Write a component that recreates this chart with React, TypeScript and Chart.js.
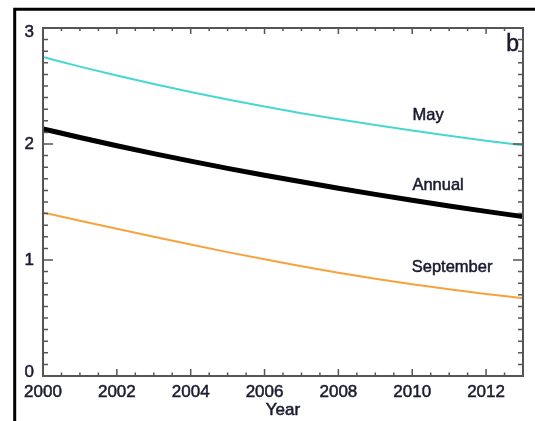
import React, { useEffect, useRef } from "react";
import { Chart, registerables } from "chart.js";

Chart.register(...registerables);

// Yearly values, 2000–2013
const YEARS = [2000, 2001, 2002, 2003, 2004, 2005, 2006, 2007, 2008, 2009, 2010, 2011, 2012, 2013];
const MAY = [2.75, 2.667, 2.59, 2.517, 2.448, 2.384, 2.323, 2.266, 2.213, 2.163, 2.116, 2.071, 2.029, 1.99];
const ANNUAL = [2.13, 2.056, 1.985, 1.917, 1.852, 1.79, 1.731, 1.674, 1.619, 1.566, 1.515, 1.466, 1.419, 1.374];
const SEPTEMBER = [1.41, 1.339, 1.269, 1.2, 1.133, 1.068, 1.006, 0.947, 0.891, 0.839, 0.791, 0.747, 0.707, 0.67];

const X_TICKS = [2000, 2002, 2004, 2006, 2008, 2010, 2012];
const Y_TICKS = [0, 1, 2, 3];

const FONT = '"Liberation Sans", Arial, Helvetica, sans-serif';
const TEXT = "#1a1a30";
const AXIS = "#555555";
const STROKE = 0.5;

// In-plot annotations, placed in data coordinates
const NOTES = [
  { text: "May", x: 2010.43, y: 2.245, size: 16.5 },
  { text: "Annual", x: 2010.7, y: 1.64, size: 16.5 },
  { text: "September", x: 2011.08, y: 0.933, size: 16.5 },
  { text: "b", x: 2012.72, y: 2.86, size: 23 },
];

function label(ctx: CanvasRenderingContext2D, text: string, x: number, y: number) {
  ctx.fillText(text, x, y);
  ctx.strokeText(text, x, y);
}

const framePlugin = {
  id: "frame",
  beforeDraw(chart: any) {
    const { ctx, width, height } = chart;
    ctx.save();
    ctx.fillStyle = "#ffffff";
    ctx.fillRect(0, 0, width, height);
    ctx.strokeStyle = "#000000";
    ctx.lineWidth = 3;
    ctx.beginPath();
    ctx.moveTo(14.7, height);
    ctx.lineTo(14.7, 9.2);
    ctx.lineTo(width, 9.2);
    ctx.stroke();
    ctx.restore();
  },
  afterDatasetsDraw(chart: any) {
    const { ctx, chartArea: a, scales } = chart;
    const xs = scales.x;
    const ys = scales.y;
    ctx.save();
    ctx.strokeStyle = AXIS;
    ctx.lineWidth = 1.5;
    // x ticks: every half year, longer every two years
    for (let i = 0; i <= 26; i++) {
      const v = 2000 + i * 0.5;
      const px = xs.getPixelForValue(v);
      const major = i % 4 === 0;
      const lb = major ? 7 : 3.5;
      const lt = major ? 6 : 3;
      ctx.beginPath();
      ctx.moveTo(px, a.bottom);
      ctx.lineTo(px, a.bottom - lb);
      ctx.moveTo(px, a.top);
      ctx.lineTo(px, a.top + lt);
      ctx.stroke();
    }
    // y ticks: every 0.1, longer at whole numbers
    for (let i = 0; i <= 30; i++) {
      const v = i / 10;
      const py = ys.getPixelForValue(v);
      const major = i % 10 === 0;
      const l = major ? 10 : 5;
      ctx.beginPath();
      ctx.moveTo(a.left, py);
      ctx.lineTo(a.left + l, py);
      ctx.moveTo(a.right, py);
      ctx.lineTo(a.right - l, py);
      ctx.stroke();
    }
    ctx.lineWidth = 2;
    ctx.strokeRect(a.left, a.top, a.right - a.left, a.bottom - a.top);
    ctx.restore();
  },
  afterDraw(chart: any) {
    const { ctx, scales, chartArea: a } = chart;
    ctx.save();
    ctx.fillStyle = TEXT;
    ctx.strokeStyle = TEXT;
    ctx.lineWidth = STROKE;
    // y tick labels, kept inside the axis span at both ends
    ctx.font = `17px ${FONT}`;
    ctx.textAlign = "right";
    ctx.textBaseline = "middle";
    Y_TICKS.forEach((v) => {
      const py = Math.min(Math.max(scales.y.getPixelForValue(v), a.top + 4), a.bottom - 4);
      label(ctx, String(v), a.left - 9, py);
    });
    ctx.textAlign = "center";
    NOTES.forEach((n) => {
      ctx.font = `${n.size}px ${FONT}`;
      label(ctx, n.text, scales.x.getPixelForValue(n.x), scales.y.getPixelForValue(n.y));
    });
    // axis title under the year labels
    ctx.font = `17px ${FONT}`;
    label(ctx, "Year", (a.left + a.right) / 2, 410);
    ctx.restore();
  },
};

export default function App() {
  const ref = useRef<HTMLCanvasElement | null>(null);

  useEffect(() => {
    if (!ref.current) return;
    const pts = (vals: number[]) => YEARS.map((yr, i) => ({ x: yr, y: vals[i] }));
    const chart = new Chart(ref.current, {
      type: "line",
      data: {
        datasets: [
          {
            label: "May",
            data: pts(MAY),
            borderColor: "#46d8d0",
            borderWidth: 2,
            pointRadius: 0,
            cubicInterpolationMode: "monotone",
          },
          {
            label: "Annual",
            data: pts(ANNUAL),
            borderColor: "#000000",
            borderWidth: 5,
            pointRadius: 0,
            cubicInterpolationMode: "monotone",
          },
          {
            label: "September",
            data: pts(SEPTEMBER),
            borderColor: "#f9a23c",
            borderWidth: 2,
            pointRadius: 0,
            cubicInterpolationMode: "monotone",
          },
        ],
      },
      options: {
        animation: false,
        responsive: false,
        devicePixelRatio: 1,
        layout: { padding: { left: 0, top: 28, right: 12, bottom: 0 } },
        plugins: { legend: { display: false }, tooltip: { enabled: false } },
        scales: {
          x: {
            type: "linear",
            min: 2000,
            max: 2013,
            afterBuildTicks: (s: any) => {
              s.ticks = X_TICKS.map((v) => ({ value: v }));
            },
            afterFit: (s: any) => {
              s.height = 45;
            },
            grid: { display: false, drawTicks: false },
            border: { display: false },
            ticks: {
              autoSkip: false,
              maxRotation: 0,
              padding: 6,
              color: TEXT,
              textStrokeColor: TEXT,
              textStrokeWidth: STROKE,
              font: { family: FONT, size: 17 },
              callback: (v: any) => String(v),
            },
          },
          y: {
            type: "linear",
            min: 0,
            max: 3,
            afterBuildTicks: (s: any) => {
              s.ticks = Y_TICKS.map((v) => ({ value: v }));
            },
            afterFit: (s: any) => {
              s.width = 43;
            },
            grid: { display: false, drawTicks: false },
            border: { display: false },
            ticks: { display: false },
          },
        },
      },
      plugins: [framePlugin],
    });
    return () => chart.destroy();
  }, []);

  return (
    <div style={{ position: "absolute", left: 0, top: 0, width: 535, height: 421 }}>
      <canvas ref={ref} width={535} height={421} style={{ display: "block" }} />
    </div>
  );
}
